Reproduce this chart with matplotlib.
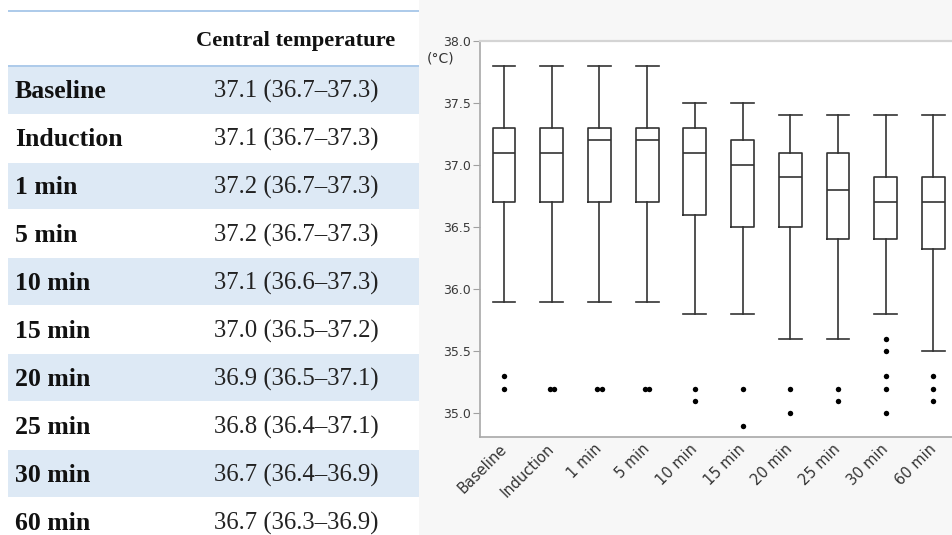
import matplotlib
matplotlib.use("Agg")
import matplotlib.pyplot as plt
from matplotlib.patches import Rectangle

# time points
labels = ["Baseline", "Induction", "1 min", "5 min", "10 min",
          "15 min", "20 min", "25 min", "30 min", "60 min"]

# table values: median (IQR)
table_text = ["37.1 (36.7\u201337.3)", "37.1 (36.7\u201337.3)", "37.2 (36.7\u201337.3)",
              "37.2 (36.7\u201337.3)", "37.1 (36.6\u201337.3)", "37.0 (36.5\u201337.2)",
              "36.9 (36.5\u201337.1)", "36.8 (36.4\u201337.1)", "36.7 (36.4\u201336.9)",
              "36.7 (36.3\u201336.9)"]

# box plot values
medians = [37.1, 37.1, 37.2, 37.2, 37.1, 37.0, 36.9, 36.8, 36.7, 36.7]
q1 = [36.7, 36.7, 36.7, 36.7, 36.6, 36.5, 36.5, 36.4, 36.4, 36.32]
q3 = [37.3, 37.3, 37.3, 37.3, 37.3, 37.2, 37.1, 37.1, 36.9, 36.9]
whis_lo = [35.9, 35.9, 35.9, 35.9, 35.8, 35.8, 35.6, 35.6, 35.8, 35.5]
whis_hi = [37.8, 37.8, 37.8, 37.8, 37.5, 37.5, 37.4, 37.4, 37.4, 37.4]
outliers = [[35.3, 35.2], [35.2, 35.2], [35.2, 35.2], [35.2, 35.2], [35.2, 35.1],
            [35.2, 34.9], [35.2, 35.0], [35.2, 35.1], [35.6, 35.5, 35.3, 35.2, 35.0],
            [35.3, 35.2, 35.1]]

W, H = 953, 535
fig = plt.figure(figsize=(W / 100, H / 100), dpi=100)
fig.patch.set_facecolor("white")

# ---- table on the left (pixel coordinates) ----
tab = fig.add_axes([0, 0, 419 / W, 1])
tab.set_xlim(0, 419)
tab.set_ylim(H, 0)
tab.axis("off")

serif = "Liberation Serif"
row_h = 47.9
top = 66
line_c = "#a6c6e8"
shade_c = "#dde9f5"
tab.plot([8, 419], [11, 11], color=line_c, lw=1.3, solid_capstyle="butt")
tab.plot([8, 419], [top, top], color=line_c, lw=1.3, solid_capstyle="butt")
tab.text(296, 41, "Central temperature", family=serif, weight="bold",
         fontsize=16.2, ha="center", va="center", color="#111111")
for i, (lab, txt) in enumerate(zip(labels, table_text)):
    y0 = top + i * row_h
    if i % 2 == 0:
        tab.add_patch(Rectangle((8, y0 + 0.8), 411, row_h - 1.2,
                                facecolor=shade_c, edgecolor="none"))
    yc = y0 + row_h / 2 + 2
    tab.text(15, yc, lab, family=serif, weight="bold", fontsize=18.5,
             ha="left", va="center", color="#111111")
    tab.text(296, yc, txt, family=serif, fontsize=17.8,
             ha="center", va="center", color="#222222")

# ---- grey panel behind the plot ----
fig.patches.append(Rectangle((419 / W, 0), 1 - 419 / W, 1, transform=fig.transFigure,
                             facecolor="#f7f7f7", edgecolor="none", zorder=-5))

# ---- box plot ----
ax = fig.add_axes([479.5 / W, 1 - 437 / H, (W - 479.5) / W, (437 - 40.7) / H])
ax.set_facecolor("white")

stats = []
for i in range(len(labels)):
    stats.append(dict(med=medians[i], q1=q1[i], q3=q3[i],
                      whislo=whis_lo[i], whishi=whis_hi[i], fliers=[]))
pos = list(range(len(labels)))
box_c = "#333333"
lp = dict(color=box_c, linewidth=1.2)
ax.bxp(stats, positions=pos, widths=0.48, capwidths=0.48, showfliers=False,
       boxprops=lp, whiskerprops=lp, capprops=lp, medianprops=lp,
       manage_ticks=False)

# outliers, tied values drawn side by side
for i, vals in enumerate(outliers):
    seen = {}
    for v in vals:
        seen[v] = seen.get(v, 0) + 1
    for v, n in seen.items():
        offs = [0.0] if n == 1 else [-0.046, 0.046]
        for o in offs:
            ax.plot(pos[i] + o, v, "o", color="black", markersize=3.9,
                    markeredgewidth=0)

ax.set_xlim(-0.514, 9.41)
ax.set_ylim(34.81, 38.0)
ax.set_yticks([35.0, 35.5, 36.0, 36.5, 37.0, 37.5, 38.0])
ax.set_yticklabels(["35.0", "35.5", "36.0", "36.5", "37.0", "37.5", "38.0"])
ax.set_xticks(pos)
ax.set_xticklabels(labels, rotation=45, ha="right", rotation_mode="anchor",
                   va="center")
ax.tick_params(axis="x", length=0, pad=7, labelsize=10.5, labelcolor="#333333")
ax.tick_params(axis="y", length=5, width=0.8, color="#a0a0a0", pad=1,
               labelsize=9, labelcolor="#3a3a3a")
for s in ["left", "bottom"]:
    ax.spines[s].set_color("#a8a8a8")
    ax.spines[s].set_linewidth(1.2)
ax.spines["top"].set_color("#d4d4d4")
ax.spines["top"].set_linewidth(1.6)
ax.spines["right"].set_visible(False)

fig.text(427 / W, 1 - 58 / H, "(\u00b0C)", fontsize=10, color="#333333",
         ha="left", va="center")

fig.savefig("out.png", dpi=100)
